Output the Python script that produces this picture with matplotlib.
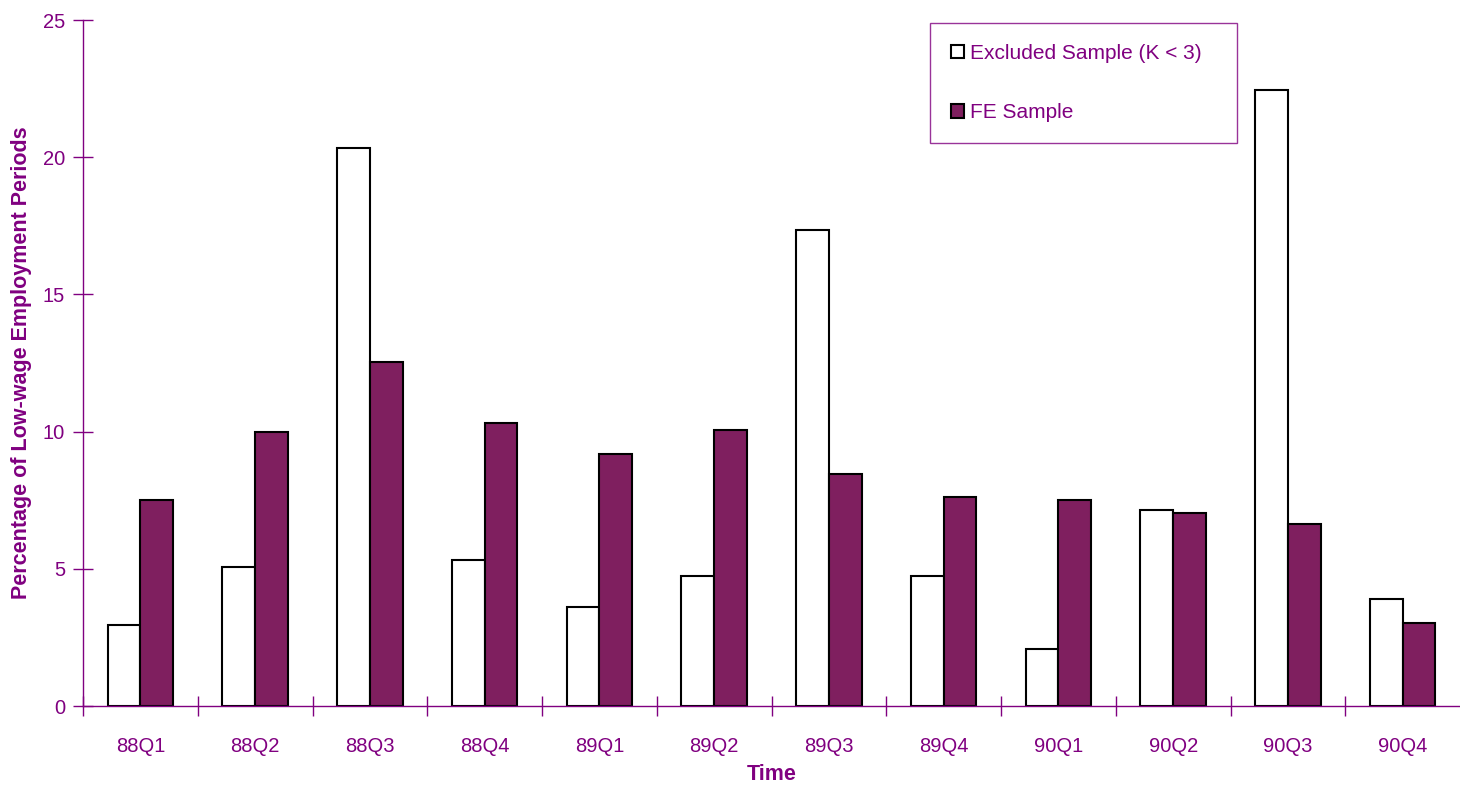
import matplotlib.pyplot as plt
import numpy as np

plt.rcParams['font.family'] = ['Liberation Sans', 'DejaVu Sans']

quarters = ['88Q1', '88Q2', '88Q3', '88Q4', '89Q1', '89Q2',
            '89Q3', '89Q4', '90Q1', '90Q2', '90Q3', '90Q4']
excluded = [2.95, 5.07, 20.33, 5.32, 3.61, 4.74, 17.35, 4.74, 2.08, 7.14, 22.45, 3.90]
fe_sample = [7.50, 9.99, 12.54, 10.31, 9.18, 10.06, 8.45, 7.62, 7.50, 7.03, 6.63, 3.02]

PURPLE = '#800080'
BAR = '#7f1f5f'


def main():
    fig = plt.figure(figsize=(14.6, 7.85), dpi=100)
    ax = fig.add_axes([83 / 1460, 79 / 785, 1377 / 1460, 686 / 785])

    x = np.arange(len(quarters))
    w = 0.285
    ax.bar(x - w / 2, excluded, w, color='white', edgecolor='black',
           linewidth=1.5, label='Excluded Sample (K < 3)')
    ax.bar(x + w / 2, fe_sample, w, color=BAR, edgecolor='black',
           linewidth=1.5, label='FE Sample')

    ax.set_xlim(-0.5, len(quarters) - 0.5)
    ax.set_ylim(0, 25)
    ax.set_yticks([0, 5, 10, 15, 20, 25])

    # category labels centred, tick marks on the boundaries
    ax.set_xticks(x)
    ax.set_xticklabels(quarters)
    ax.tick_params(axis='x', length=0, pad=22)
    ax.set_xticks(np.arange(len(quarters)) - 0.5, minor=True)
    ax.tick_params(axis='x', which='minor', direction='inout', length=14,
                   color=PURPLE, width=1)
    ax.tick_params(axis='y', direction='inout', length=14, color=PURPLE,
                   width=1, pad=6)
    ax.tick_params(labelsize=14.5, labelcolor=PURPLE)

    for s in ['top', 'right']:
        ax.spines[s].set_visible(False)
    for s in ['left', 'bottom']:
        ax.spines[s].set_color(PURPLE)
        ax.spines[s].set_linewidth(1)

    ax.set_xlabel('Time', fontsize=15.5, fontweight='bold', color=PURPLE, labelpad=6)
    ax.set_ylabel('Percentage of Low-wage Employment Periods', fontsize=15.5,
                  fontweight='bold', color=PURPLE, labelpad=8)

    leg = ax.legend(loc='upper left', mode='expand',
                    bbox_to_anchor=(930 / 1460, 644 / 785, 307 / 1460, 118 / 785),
                    bbox_transform=fig.transFigure, fontsize=15,
                    handlelength=0.65, handleheight=0.65, handletextpad=0.25,
                    labelspacing=1.95, borderpad=1.0, borderaxespad=0,
                    fancybox=False, frameon=True)
    leg.get_frame().set_edgecolor(PURPLE)
    leg.get_frame().set_linewidth(1)
    for t in leg.get_texts():
        t.set_color(PURPLE)

    plt.savefig('out.png', dpi=100)


if __name__ == "__main__":
    main()
